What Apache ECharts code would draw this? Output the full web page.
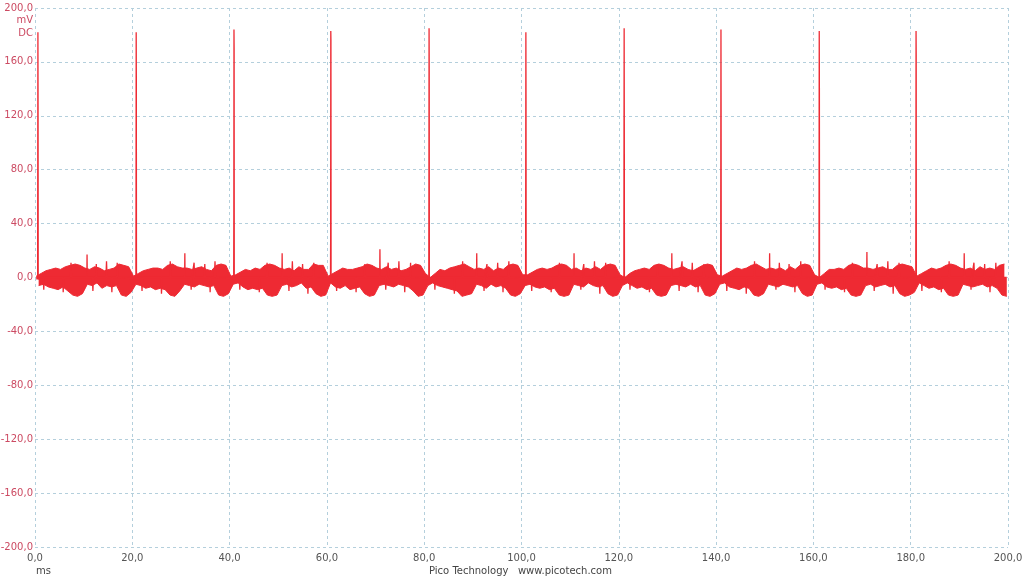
<!DOCTYPE html>
<html>
<head>
<meta charset="utf-8">
<script src="https://cdn.jsdelivr.net/npm/echarts@6/dist/echarts.min.js"></script>
<style>
html,body{margin:0;padding:0;background:#fff;}
#chart{width:1024px;height:576px;}
</style>
</head>
<body>
<div id="chart"></div>
<script>
// ---- data ----
// noise envelope per 1 ms bin (mV): upper and lower edge of the noise band
const bandHigh = [
  1, 3, 5, 6, 7, 6, 8, 9, 10, 9,
  7, 6, 8, 7, 5, 6, 7, 10, 9, 8,
  1, 3, 5, 6, 7, 7, 6, 9, 10, 8,
  7, 7, 6, 7, 8, 6, 5, 9, 10, 9,
  1, 2, 4, 6, 5, 7, 6, 9, 10, 9,
  7, 6, 7, 5, 8, 6, 6, 10, 9, 9,
  1, 3, 5, 7, 6, 6, 7, 8, 10, 9,
  7, 6, 8, 6, 7, 5, 6, 8, 10, 9,
  3, 0, 3, 6, 5, 7, 8, 9, 10, 8,
  6, 7, 6, 8, 5, 7, 6, 9, 10, 9,
  2, 2, 4, 6, 7, 6, 7, 9, 10, 9,
  6, 7, 5, 7, 6, 8, 6, 9, 10, 9,
  2, 0, 3, 5, 6, 7, 6, 9, 10, 9,
  7, 6, 7, 8, 6, 5, 7, 9, 10, 9,
  2, 1, 3, 5, 7, 6, 7, 9, 10, 8,
  6, 7, 6, 7, 5, 8, 6, 9, 10, 9,
  2, 0, 3, 6, 6, 7, 6, 9, 10, 9,
  7, 7, 6, 7, 8, 6, 6, 9, 10, 9,
  8, 1, 3, 5, 7, 6, 7, 9, 10, 9,
  7, 6, 7, 5, 8, 6, 7, 6, 9, 10
];
const bandLow = [
  -6, -5, -7, -8, -9, -7, -10, -13, -14, -12,
  -5, -6, -4, -8, -6, -7, -6, -13, -14, -11,
  -5, -6, -8, -7, -9, -8, -9, -13, -14, -10,
  -5, -6, -7, -5, -6, -7, -6, -13, -14, -12,
  -5, -4, -7, -9, -8, -9, -8, -13, -14, -13,
  -6, -5, -7, -6, -4, -8, -7, -12, -14, -13,
  -4, -7, -8, -6, -9, -8, -7, -12, -14, -13,
  -6, -5, -6, -7, -5, -6, -7, -10, -14, -13,
  -6, -4, -6, -7, -8, -9, -10, -14, -13, -12,
  -5, -6, -8, -5, -7, -6, -8, -13, -14, -12,
  -6, -5, -7, -8, -7, -9, -8, -13, -14, -13,
  -5, -6, -7, -4, -6, -7, -6, -12, -14, -13,
  -6, -4, -6, -8, -7, -9, -8, -13, -14, -13,
  -6, -5, -6, -7, -5, -7, -6, -13, -14, -12,
  -5, -4, -7, -8, -9, -7, -8, -13, -14, -12,
  -5, -6, -7, -5, -6, -7, -6, -12, -14, -13,
  -5, -4, -7, -8, -7, -9, -8, -13, -14, -13,
  -6, -5, -7, -6, -5, -7, -6, -12, -14, -13,
  -11, -4, -6, -8, -7, -9, -8, -13, -14, -13,
  -5, -6, -7, -6, -5, -7, -6, -8, -13, -14
];
const binMs = 1;            // width of one envelope bin (ms)

// large spikes (ms, mV)
const spikeTimes = [0.6, 20.8, 40.9, 60.8, 81.0, 100.9, 121.1, 141.0, 161.2, 181.1];
const spikePeaks = [182, 182, 184, 183, 185, 182, 185, 184, 183, 183];
const spikeRise  = [88, 68, 48, 30, 62, 80, 104, 95, 76, 59];
const spikeFall  = [127, 148, 170, 176, 156, 134, 114, 124, 145, 165];
const spikeBase  = -1;

// small spikes (ms, mV)
const smallSpikeTimes = [10.7, 30.8, 50.8, 70.9, 90.8, 110.8, 130.9, 151.0, 171.0, 191.0];
const smallSpikePeaks = [17, 18, 18, 21, 18, 18, 18, 18, 19, 18];
const smallBase = 0;

// short noise excursions poking out of the band (ms, mV)
const upJagTimes = [7.4, 12.6, 14.7, 16.9, 27.8, 32.7, 34.9, 37.0, 47.7, 52.9, 55.0, 57.3,
  67.8, 72.6, 74.8, 77.2, 87.9, 92.9, 95.1, 97.4, 107.8, 112.8, 115.0, 117.3,
  128.0, 133.0, 135.1, 137.5, 147.9, 153.0, 155.0, 157.4, 168.0, 173.1, 175.3, 177.6,
  187.9, 193.0, 195.2, 197.5];
const upJagValues = [11, 10, 12, 11, 12, 11, 10, 12, 11, 12, 10, 11,
  10, 11, 12, 11, 12, 10, 11, 12, 11, 10, 12, 11,
  10, 12, 11, 10, 12, 11, 10, 12, 11, 10, 12, 11,
  12, 11, 10, 11];
const downJagTimes = [1.8, 5.8, 11.9, 15.8, 22.0, 26.0, 32.1, 36.0, 42.1, 46.1, 52.2, 56.1,
  62.0, 66.0, 72.1, 76.0, 82.2, 86.2, 92.3, 96.2, 102.1, 106.1, 112.2, 116.1,
  122.3, 126.3, 132.4, 136.3, 142.2, 146.2, 152.3, 156.2, 162.4, 166.4, 172.5, 176.4,
  182.3, 186.3, 192.4, 196.3];
const downJagValues = [-9, -11, -10, -11, -10, -12, -9, -11, -9, -11, -10, -12,
  -10, -11, -9, -11, -9, -12, -10, -11, -10, -11, -9, -12,
  -9, -11, -10, -11, -10, -12, -9, -11, -9, -11, -10, -12,
  -10, -11, -9, -11];

// axes
const xMin = 0, xMax = 200, xStep = 20;
const yMin = -200, yMax = 200, yStep = 40;

// ---- build series data ----
const hiData = bandHigh.map((v, i) => [i * binMs + 0.25 * binMs, v]);
const loData = bandLow.map((v, i) => [i * binMs + 0.75 * binMs, v]);

const spikePts = [];
spikeTimes.forEach((t, k) => {
  spikePts.push([t - 0.06, spikeBase]);
  spikePts.push([t - 0.03, spikeRise[k]]);
  spikePts.push([t, spikePeaks[k]]);
  spikePts.push([t + 0.03, spikeFall[k]]);
  spikePts.push([t + 0.06, spikeBase]);
});
smallSpikeTimes.forEach((t, k) => {
  spikePts.push([t - 0.05, smallBase]);
  spikePts.push([t, smallSpikePeaks[k]]);
  spikePts.push([t + 0.05, smallBase]);
});
upJagTimes.forEach((t, k) => {
  spikePts.push([t - 0.12, smallBase]);
  spikePts.push([t, upJagValues[k]]);
  spikePts.push([t + 0.12, smallBase]);
});
downJagTimes.forEach((t, k) => {
  spikePts.push([t - 0.12, smallBase]);
  spikePts.push([t, downJagValues[k]]);
  spikePts.push([t + 0.12, smallBase]);
});
spikePts.sort((a, b) => a[0] - b[0]);

const RED = '#ee2a33';
const fmt = v => v.toFixed(1).replace('.', ',');
const font = 'DejaVu Sans';
const gridColor = '#b4cfdc';

const chart = echarts.init(document.getElementById('chart'), null, {renderer: 'canvas'});
chart.setOption({
  animation: false,
  backgroundColor: '#ffffff',
  grid: {left: 35, right: 16, top: 8, bottom: 29, containLabel: false, outerBoundsMode: 'none'},
  xAxis: {
    type: 'value', min: xMin, max: xMax, interval: xStep,
    axisLine: {show: false}, axisTick: {show: false},
    axisLabel: {formatter: fmt, color: '#555', fontFamily: font, fontSize: 10, margin: 6,
                showMinLabel: true, showMaxLabel: true},
    splitLine: {show: true, lineStyle: {color: gridColor, type: [3, 3], width: 1}}
  },
  yAxis: {
    type: 'value', min: yMin, max: yMax, interval: yStep,
    axisLine: {show: false}, axisTick: {show: false},
    axisLabel: {formatter: fmt, color: '#cc4a62', fontFamily: font, fontSize: 10, margin: 2,
                showMinLabel: true, showMaxLabel: true},
    splitLine: {show: true, lineStyle: {color: gridColor, type: [3, 3], width: 1}}
  },
  series: [
    {type: 'line', data: hiData, symbol: 'none', silent: true,
     lineStyle: {color: RED, width: 1}, areaStyle: {color: RED, opacity: 1, origin: -1.5}},
    {type: 'line', data: loData, symbol: 'none', silent: true,
     lineStyle: {color: RED, width: 1}, areaStyle: {color: RED, opacity: 1, origin: 0.5}},
    {type: 'line', data: spikePts, symbol: 'none', silent: true,
     lineStyle: {color: RED, width: 1.3}}
  ],
  graphic: [
    {type: 'text', right: 1024 - 33, top: 15, style: {text: 'mV', fill: '#cc4a62', font: '10px "DejaVu Sans"', align: 'right'}},
    {type: 'text', right: 1024 - 33, top: 28, style: {text: 'DC', fill: '#cc4a62', font: '10px "DejaVu Sans"', align: 'right'}},
    {type: 'text', left: 36, top: 566, style: {text: 'ms', fill: '#444', font: '10px "DejaVu Sans"'}},
    {type: 'text', left: 429, top: 566, style: {text: 'Pico Technology   www.picotech.com', fill: '#444', font: '10px "DejaVu Sans"'}}
  ]
});
</script>
</body>
</html>
